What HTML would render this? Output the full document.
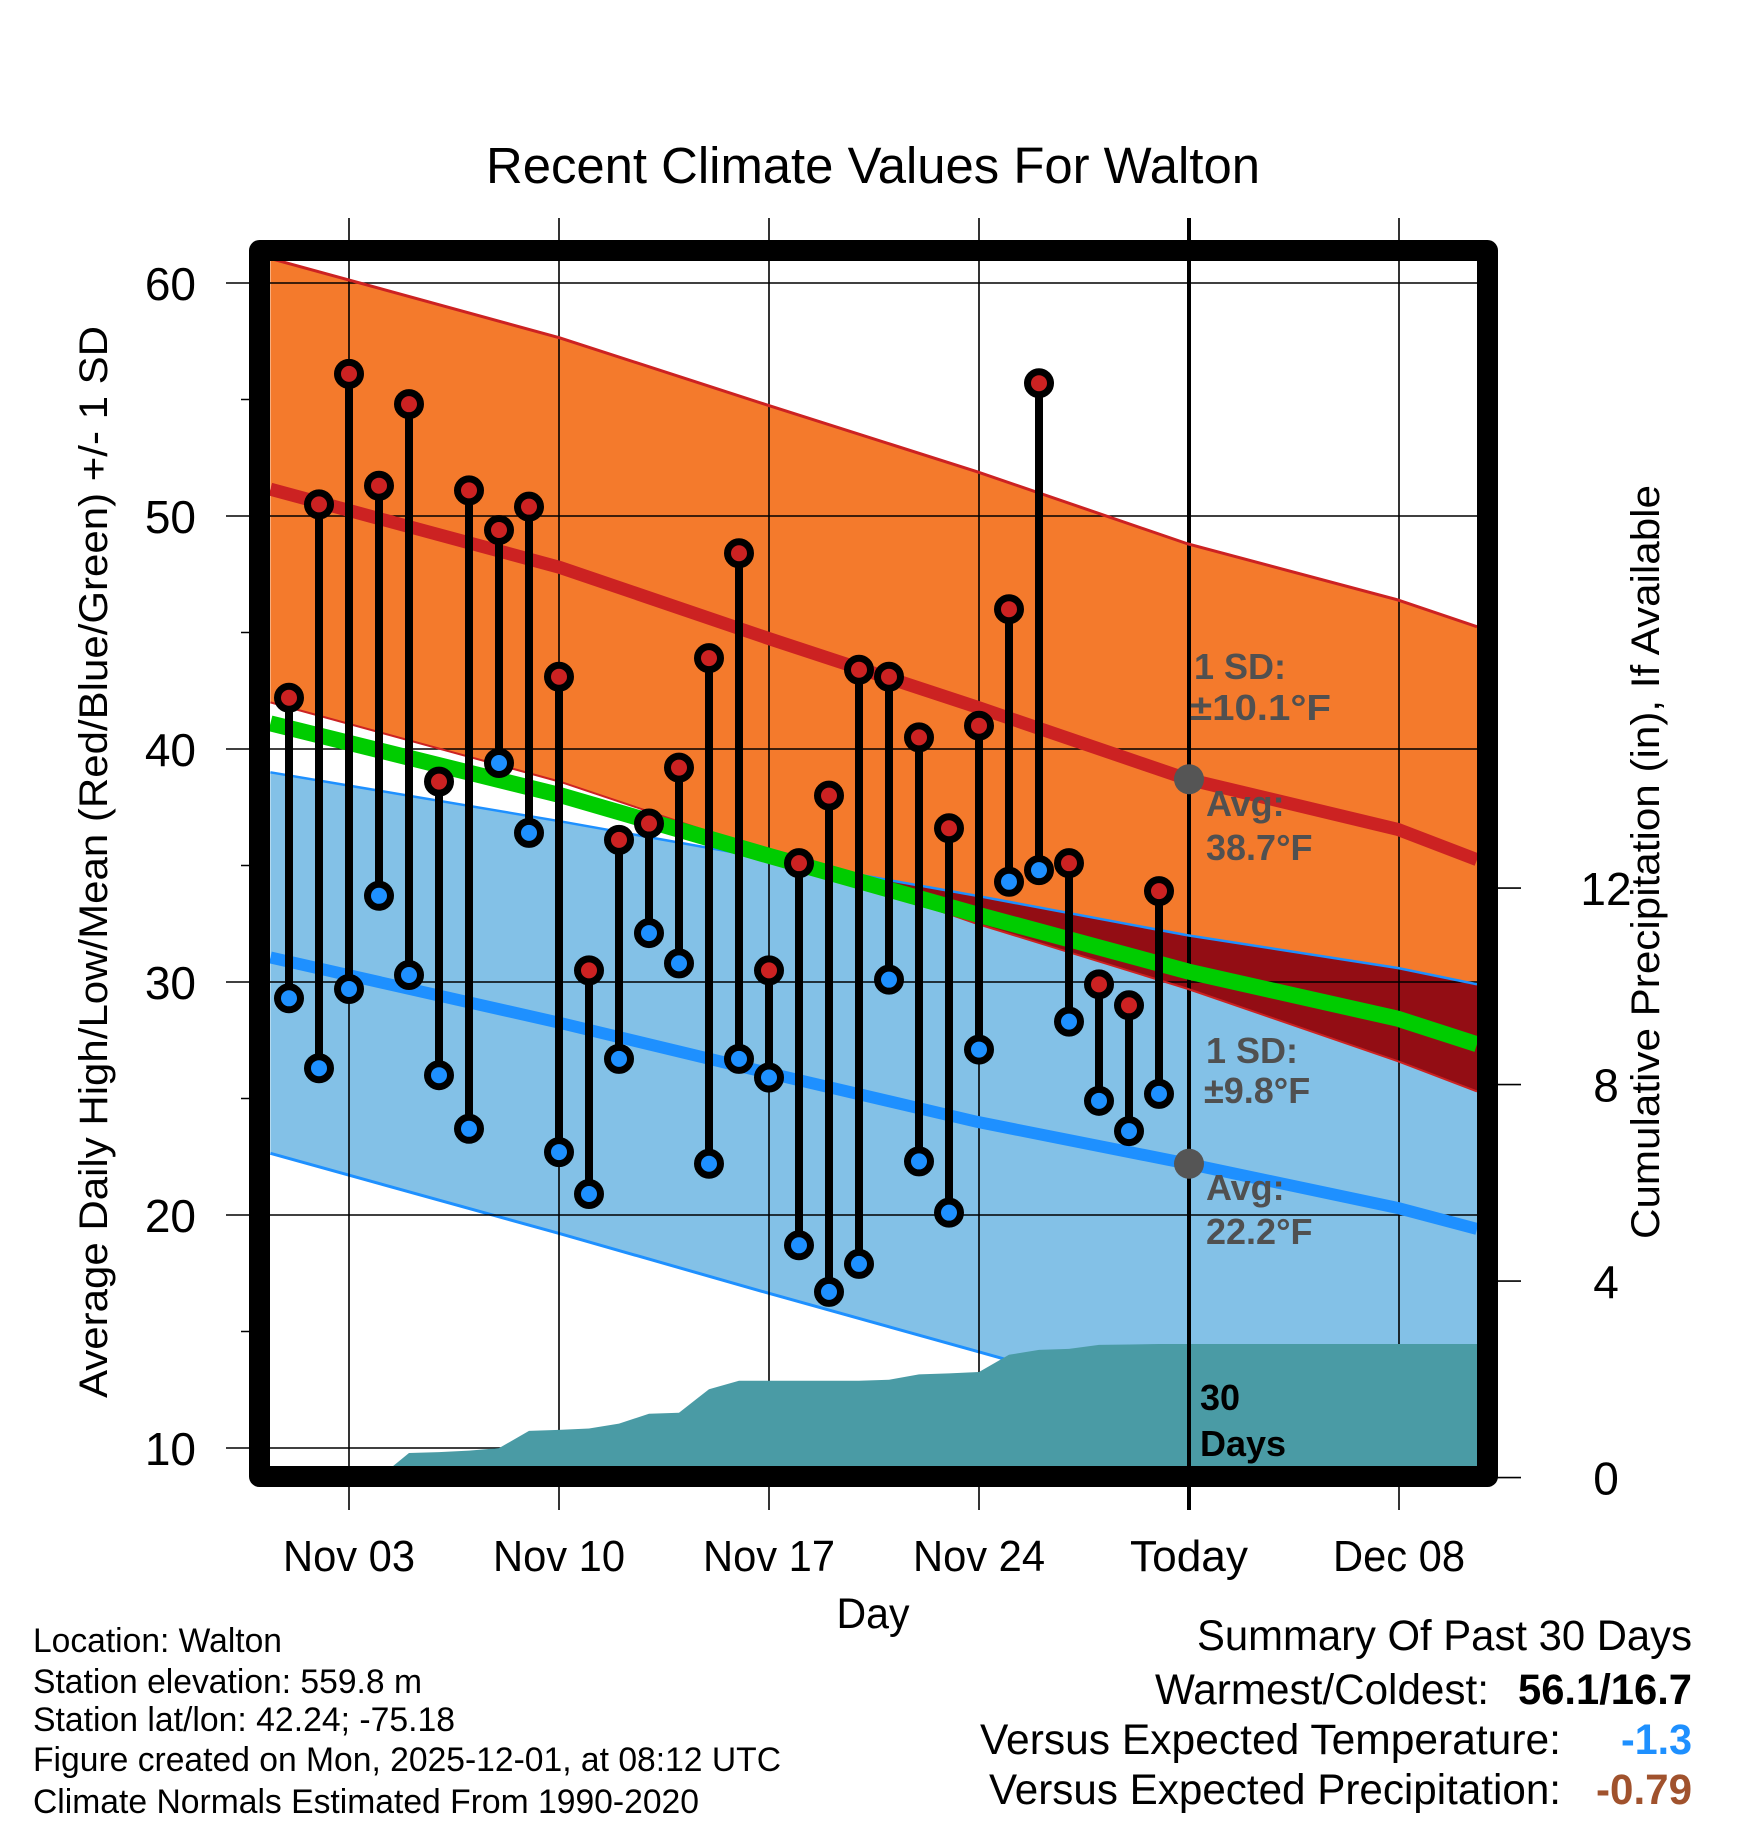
<!DOCTYPE html>
<html><head><meta charset="utf-8"><style>
html,body{margin:0;padding:0;background:#fff;}
svg{display:block;font-family:"Liberation Sans",Arial,sans-serif;}
</style></head><body>
<svg id="chart" xmlns="http://www.w3.org/2000/svg" width="1748" height="1828" viewBox="0 0 1748 1828">
<defs><clipPath id="plotclip"><rect x="270" y="261" width="1207" height="1205"/></clipPath></defs>
<text x="873" y="183" text-anchor="middle" font-size="51" textLength="774" lengthAdjust="spacingAndGlyphs">Recent Climate Values For Walton</text>
<g id="fills" clip-path="url(#plotclip)"></g>
<g id="grid"></g>
<g id="prc" clip-path="url(#plotclip)"></g>
<g id="lines" clip-path="url(#plotclip)"></g>
<g id="marks"></g>
<g id="annot" font-weight="bold" font-size="36" fill="#505050">
<text x="1194" y="679">1 SD:</text>
<text x="1190" y="720" textLength="141" lengthAdjust="spacingAndGlyphs">±10.1°F</text>
<text x="1206" y="816">Avg:</text>
<text x="1206" y="860">38.7°F</text>
<text x="1206" y="1063">1 SD:</text>
<text x="1204" y="1103">±9.8°F</text>
<text x="1206" y="1200">Avg:</text>
<text x="1206" y="1244">22.2°F</text>
<text x="1200" y="1410" fill="#000">30</text>
<text x="1200" y="1456" fill="#000">Days</text>
</g>
<rect x="259.5" y="250.5" width="1228" height="1226" fill="none" stroke="#000" stroke-width="21" stroke-linejoin="round"/>
<g id="axes"></g>
<text x="873" y="1628" text-anchor="middle" font-size="43" textLength="73" lengthAdjust="spacingAndGlyphs">Day</text>
<text transform="translate(107,862) rotate(-90)" text-anchor="middle" font-size="40" textLength="1072" lengthAdjust="spacingAndGlyphs">Average Daily High/Low/Mean (Red/Blue/Green) +/- 1 SD</text>
<text transform="translate(1659,862) rotate(-90)" text-anchor="middle" font-size="40" textLength="754" lengthAdjust="spacingAndGlyphs">Cumulative Precipitation (in), If Available</text>
<g font-size="34">
<text x="33" y="1652" textLength="249" lengthAdjust="spacingAndGlyphs">Location: Walton</text>
<text x="33" y="1693" textLength="389" lengthAdjust="spacingAndGlyphs">Station elevation: 559.8 m</text>
<text x="33" y="1731" textLength="422" lengthAdjust="spacingAndGlyphs">Station lat/lon: 42.24; -75.18</text>
<text x="33" y="1771" textLength="748" lengthAdjust="spacingAndGlyphs">Figure created on Mon, 2025-12-01, at 08:12 UTC</text>
<text x="33" y="1813" textLength="666" lengthAdjust="spacingAndGlyphs">Climate Normals Estimated From 1990-2020</text>
</g>
<g font-size="43">
<text x="1692" y="1650" text-anchor="end" textLength="495" lengthAdjust="spacingAndGlyphs">Summary Of Past 30 Days</text>
<text x="1489" y="1704" text-anchor="end" textLength="334" lengthAdjust="spacingAndGlyphs">Warmest/Coldest:</text>
<text x="1692" y="1704" text-anchor="end" font-weight="bold" textLength="174" lengthAdjust="spacingAndGlyphs">56.1/16.7</text>
<text x="1561" y="1754" text-anchor="end" textLength="581" lengthAdjust="spacingAndGlyphs">Versus Expected Temperature:</text>
<text x="1692" y="1754" text-anchor="end" font-weight="bold" fill="#1e90ff" textLength="71" lengthAdjust="spacingAndGlyphs">-1.3</text>
<text x="1561" y="1804" text-anchor="end" textLength="572" lengthAdjust="spacingAndGlyphs">Versus Expected Precipitation:</text>
<text x="1692" y="1804" text-anchor="end" font-weight="bold" fill="#a0522d" textLength="96" lengthAdjust="spacingAndGlyphs">-0.79</text>
</g>
</svg>
<script>
var highs=[42.2,50.5,56.1,51.3,54.8,38.6,51.1,49.4,50.4,43.1,30.5,36.1,36.8,39.2,43.9,48.4,30.5,35.1,38.0,43.4,43.1,40.5,36.6,41.0,46.0,55.7,35.1,29.9,29.0,33.9];
var lows=[29.3,26.3,29.7,33.7,30.3,26.0,23.7,39.4,36.4,22.7,20.9,26.7,32.1,30.8,22.2,26.7,25.9,18.7,16.7,17.9,30.1,22.3,20.1,27.1,34.3,34.8,28.3,24.9,23.6,25.2];
var normDays=[-0.62,9.02,15.97,22.93,29.97,36.96,39.6];
var hiAvg=[51.15,47.8,44.75,41.8,38.7,36.55,35.25];
var hiUp=[61.05,57.65,54.75,51.9,48.8,46.4,45.25];
var hiLow=[42.0,38.6,35.6,32.5,29.7,26.6,25.3];
var loAvg=[31.05,28.25,26.1,24.0,22.2,20.3,19.4];
var loUp=[39.0,36.9,35.3,33.7,32.0,30.6,29.9];
var loLow=[22.65,19.2,16.65,14.15,11.6,9.1,8.2];
var precipCum=[0,0,0,0,0.5,0.52,0.55,0.6,0.95,0.97,1.0,1.1,1.3,1.32,1.8,1.97,1.97,1.97,1.97,1.97,1.99,2.1,2.12,2.15,2.5,2.6,2.62,2.7,2.71,2.72,2.72];
var yTicks=[10,20,30,40,50,60];
var yMinor=[15,25,35,45,55];
var y2Ticks=[0,4,8,12];
var xTickDays=[2,9,16,23,30,37];
var xTickLabels=["Nov 03","Nov 10","Nov 17","Nov 24","Today","Dec 08"];
var todayIndex=30;

var NS="http://www.w3.org/2000/svg";
function X(d){return 289+d*30;}
function Y(v){return 283+(60-v)*23.3;}
function Y2(p){return 1477.6-p*49.13;}
function mk(tag,attrs,parent){var e=document.createElementNS(NS,tag);for(var k in attrs)e.setAttribute(k,attrs[k]);document.getElementById(parent).appendChild(e);return e;}
function pts(days,vals){return days.map(function(d,i){return X(d).toFixed(1)+","+Y(vals[i]).toFixed(1);});}
function band(days,top,bot){return pts(days,top).concat(pts(days,bot).reverse()).join(" ");}

var e;
e=mk("polygon",{points:band(normDays,hiUp,hiLow),fill:"#f47a2c"},"fills");


e=mk("polygon",{points:band(normDays,loUp,loLow),fill:"#83c1e7"},"fills");


var ovTop=[],ovBot=[];
for(var i=0;i<normDays.length;i++){var t=Math.min(hiUp[i],loUp[i]);var b=Math.max(hiLow[i],loLow[i]);if(b>t)b=t;ovTop.push(t);ovBot.push(b);}
e=mk("polygon",{points:band(normDays,ovTop,ovBot),fill:"#930d14"},"fills");


e=mk("polyline",{points:pts(normDays,loLow).join(" "),fill:"none",stroke:"#1e90ff","stroke-width":3},"fills");



// grid
yTicks.forEach(function(v){
  e=mk("line",{x1:226,x2:1477,y1:Y(v),y2:Y(v),stroke:"#000","stroke-width":1.6},"grid");
  
  
});
yMinor.forEach(function(v){
  e=mk("line",{x1:241,x2:262,y1:Y(v),y2:Y(v),stroke:"#000","stroke-width":1.6},"grid");
  
  
});
xTickDays.forEach(function(d,i){
  e=mk("line",{x1:X(d),x2:X(d),y1:218,y2:1510,stroke:"#000","stroke-width":d===todayIndex?4:1.6},"grid");
  
  
});

// precipitation
var pd=[];for(var k=0;k<precipCum.length;k++)pd.push(k);
var pp=pd.map(function(d,i){return X(d).toFixed(1)+","+Y2(precipCum[i]).toFixed(1);});
pp.push("1490,"+Y2(precipCum[precipCum.length-1]).toFixed(1));
pp.push("1490,1480");pp.push(X(0)+",1480");
e=mk("polygon",{points:pp.join(" "),fill:"#4a9ba5"},"prc");


e=mk("line",{x1:X(todayIndex),x2:X(todayIndex),y1:1300,y2:1480,stroke:"#000","stroke-width":4},"prc");



// lines
var mean=hiAvg.map(function(v,i){return (v+loAvg[i])/2;});
function line(vals,col,w){
  return mk("polyline",{points:pts(normDays,vals).join(" "),fill:"none",stroke:col,"stroke-width":w},"lines");
}
e=line(hiUp,"#cc2222",3);


e=line(hiLow,"#cc2222",2);


e=line(loUp,"#1e90ff",2.5);


e=line(mean,"#00cc00",16);


e=line(hiAvg,"#cc2222",13);


e=line(loAvg,"#1e90ff",12);


e=mk("circle",{cx:X(todayIndex),cy:Y(hiAvg[4]),r:15,fill:"#555"},"lines");


e=mk("circle",{cx:X(todayIndex),cy:Y(loAvg[4]),r:15,fill:"#555"},"lines");



// daily marks
highs.forEach(function(h,i){
  var x=X(i);
  e=mk("line",{x1:x,x2:x,y1:Y(h),y2:Y(lows[i]),stroke:"#000","stroke-width":8},"marks");
  
  
  e=mk("circle",{cx:x,cy:Y(h),r:11.5,fill:"#cc2222",stroke:"#000","stroke-width":7},"marks");
  
  
  e=mk("circle",{cx:x,cy:Y(lows[i]),r:11.5,fill:"#1e90ff",stroke:"#000","stroke-width":7},"marks");
  
  
});

// axes labels
yTicks.forEach(function(v){
  e=mk("text",{x:196,y:Y(v)+17,"text-anchor":"end","font-size":46},"axes");
  e.textContent=String(v);
  
  
});
y2Ticks.forEach(function(p){
  e=mk("line",{x1:1497,x2:1521,y1:Y2(p),y2:Y2(p),stroke:"#000","stroke-width":1.6},"axes");
  
  
  e=mk("text",{x:1606,y:Y2(p)+17,"text-anchor":"middle","font-size":46},"axes");
  e.textContent=String(p);
  
  
});
xTickDays.forEach(function(d,i){
  e=mk("text",{x:X(d),y:1571,"text-anchor":"middle","font-size":44,textLength:xTickLabels[i]==="Today"?118:132,lengthAdjust:"spacingAndGlyphs"},"axes");
  e.textContent=xTickLabels[i];
  
  
});
</script>
</body></html>
